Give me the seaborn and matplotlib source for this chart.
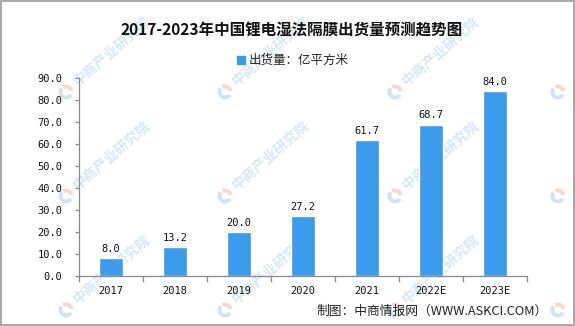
import matplotlib
matplotlib.use("Agg")
import matplotlib.pyplot as plt
from matplotlib.patches import Rectangle, Wedge
from matplotlib.lines import Line2D
import seaborn as sns
import pandas as pd
import numpy as np

# ---- data ----
years = ["2017", "2018", "2019", "2020", "2021", "2022E", "2023E"]
shipments = [8.0, 13.2, 20.0, 27.2, 61.7, 68.7, 84.0]
y_ticks = [0, 10, 20, 30, 40, 50, 60, 70, 80, 90]
title = "2017-2023年中国锂电湿法隔膜出货量预测趋势图"
legend_label = "出货量：亿平方米"
footer = "制图：中商情报网（WWW.ASKCI.COM）"
watermark = "中商产业研究院"

df = pd.DataFrame({"year": years, "value": shipments})

sns.set_theme(style="white")
CJK = ["Noto Sans CJK SC", "DejaVu Sans"]
NUM = ["DejaVu Sans Mono", "Noto Sans CJK SC"]
plt.rcParams["font.family"] = CJK

BLUE = "#3C9CEB"
GRAY = "#898989"
W, H = 575, 326

fig = plt.figure(figsize=(W / 100, H / 100), dpi=100)
fig.patch.set_facecolor("white")

# watermarks (behind everything)
wm_x = [66, 225, 395, 558]
wm_y = [92, 196, 310]
for ly in wm_y:
    for lx in wm_x:
        cx, cy = lx / 100, (H - ly) / 100
        fig.add_artist(Wedge((cx, cy), 0.075, 10, 120, width=0.04,
                             transform=fig.dpi_scale_trans,
                             facecolor="#f7d9cc", edgecolor="none", zorder=-5))
        fig.add_artist(Wedge((cx, cy), 0.075, 140, 330, width=0.04,
                             transform=fig.dpi_scale_trans,
                             facecolor="#d2e4f4", edgecolor="none", zorder=-5))
        if lx + 90 < W:
            fig.text((lx + 9) / W, 1 - (ly - 9) / H, watermark, rotation=41,
                     rotation_mode="anchor", ha="left", va="center",
                     fontsize=10, fontweight="bold", color="#d6e7f5",
                     family=CJK, zorder=-5)

ax = fig.add_axes([79 / W, 1 - 276 / H, (527 - 79) / W, (276 - 77.7) / H])
ax.set_facecolor("none")

sns.barplot(data=df, x="year", y="value", color=BLUE, saturation=1,
            width=0.375, ax=ax, zorder=2)

ax.set_xlim(-0.5, len(years) - 0.5)
ax.set_ylim(0, 90)
ax.set_yticks(y_ticks)
ax.set_yticklabels([f"{v:.1f}" for v in y_ticks], family=NUM, fontsize=7.5,
                   color="#111111")
ax.set_xticks(range(len(years)))
ax.set_xticklabels(years, family=NUM, fontsize=7.5, color="#111111")
ax.set_xticks(np.arange(-0.5, len(years), 1.0), minor=True)
ax.set_xlabel("")
ax.set_ylabel("")

for s in ["top", "right"]:
    ax.spines[s].set_visible(False)
for s in ["left", "bottom"]:
    ax.spines[s].set_color(GRAY)
    ax.spines[s].set_linewidth(0.9)

ax.tick_params(axis="y", which="major", direction="out", length=3,
               width=0.9, color=GRAY, pad=9, left=True)
ax.tick_params(axis="x", which="major", length=0, pad=7, bottom=True)
ax.tick_params(axis="x", which="minor", direction="out", length=4,
               width=0.9, color=GRAY, bottom=True)

for c in ax.containers:
    ax.bar_label(c, labels=[f"{v:.1f}" for v in shipments], padding=3,
                 family=NUM, fontsize=7.5, color="#111111")

# title
fig.text(0.507, 1 - 31 / H, title, ha="center", va="center",
         fontsize=11.2, fontweight="bold", color="#111111", family=CJK)

# legend
handle = Line2D([], [], marker="s", linestyle="none", color=BLUE,
                markersize=6)
fig.legend([handle], [legend_label], loc="center",
           bbox_to_anchor=(0.508, 1 - 60.5 / H), frameon=False,
           handlelength=0.8, handletextpad=0.2, prop={"family": CJK, "size": 9},
           labelcolor="#222222")

# footer
fig.text(548 / W, 1 - 311 / H, footer, ha="right", va="center",
         fontsize=9.2, color="#222222", family=CJK)

# border
fig.add_artist(Rectangle((0.5 / W, 1.5 / H), 1 - 1.5 / W, 1 - 2.5 / H,
                         transform=fig.transFigure, fill=False,
                         edgecolor="#9a9a9a", linewidth=1.2, zorder=10))

fig.savefig("out.png", dpi=100)
